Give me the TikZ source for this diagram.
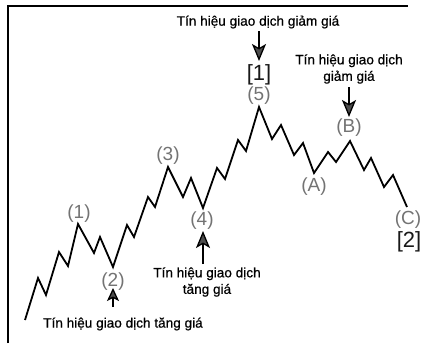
\documentclass[tikz,border=0pt]{standalone}
\usepackage{fontspec}
\setmainfont{Liberation Sans}
\newfontfamily\sigfont[FakeBold=0.6]{Liberation Sans}
\usetikzlibrary{arrows.meta}
\begin{document}
\begin{tikzpicture}[x=1pt,y=-1pt,
  wave/.style={line width=1.8pt,line join=miter,black},
  frame/.style={line width=1.6pt,black},
  sig/.style={line width=1.3pt,-{Stealth[length=17pt,width=14pt,inset=4pt,fill=black!70]}},
  sigtext/.style={font=\sigfont\fontsize{13.6}{16.5}\selectfont,align=center,inner sep=0pt,text=black},
  wlabel/.style={font=\fontsize{19}{19}\selectfont,text=black!55,inner sep=0pt},
  blabel/.style={font=\fontsize{22}{22}\selectfont,text=black!90,inner sep=0pt}]
\useasboundingbox (0,0) rectangle (422,343);
% frame
\draw[frame] (8,343) -- (8,6) -- (408,6);
% wave
\draw[wave] (25,320) -- (38,278) -- (46,295) -- (59,252) -- (68,266) -- (78,224)
  -- (94,253) -- (100,237) -- (113,267) -- (127,225) -- (134,237) -- (148,197)
  -- (155,207) -- (168,167) -- (183,197) -- (191,178) -- (203,208) -- (217,168)
  -- (225,179) -- (238,140) -- (246,151) -- (259,107) -- (272,139) -- (281,125)
  -- (294,155) -- (303,143) -- (314,173) -- (328,152) -- (336,162) -- (350,141)
  -- (364,170) -- (371,158) -- (384,187) -- (393,175) -- (407,207);
% wave labels
\node[wlabel] (w1) at (79,214) {(1)};
\node[wlabel] (w2) at (113,282) {(2)};
\node[wlabel] (w3) at (168,156) {(3)};
\node[wlabel] (w4) at (202,221) {(4)};
\node[wlabel] (w5) at (259,96) {(5)};
\node[wlabel] (wA) at (314,187) {(A)};
\node[wlabel] (wB) at (349,128) {(B)};
\node[wlabel] (wC) at (408,220) {(C)};
\node[blabel] (b1) at (259,75) {[1]};
\node[blabel] (b2) at (409,242) {[2]};
% signal texts
\node[sigtext] (t1) at (258,22) {Tín hiệu giao dịch giảm giá};
\node[sigtext] (tB) at (349,69) {Tín hiệu giao dịch\\giảm giá};
\node[sigtext] (t4) at (207,282) {Tín hiệu giao dịch\\tăng giá};
\node[sigtext] (t2) at (123,324) {Tín hiệu giao dịch tăng giá};
% arrows
\coordinate (a1s) at (259,31);  \coordinate (a1e) at (259,61);
\coordinate (aBs) at (349,87);  \coordinate (aBe) at (349,117);
\coordinate (a4s) at (203,264); \coordinate (a4e) at (203,231);
\coordinate (a2s) at (113,307); \coordinate (a2e) at (113,288);
\draw[sig] (a1s) -- (a1e);
\draw[sig] (aBs) -- (aBe);
\draw[sig] (a4s) -- (a4e);
\draw[sig,-{Stealth[length=13pt,width=12pt,inset=3pt,fill=black!70]}] (a2s) -- (a2e);
\end{tikzpicture}
\end{document}
